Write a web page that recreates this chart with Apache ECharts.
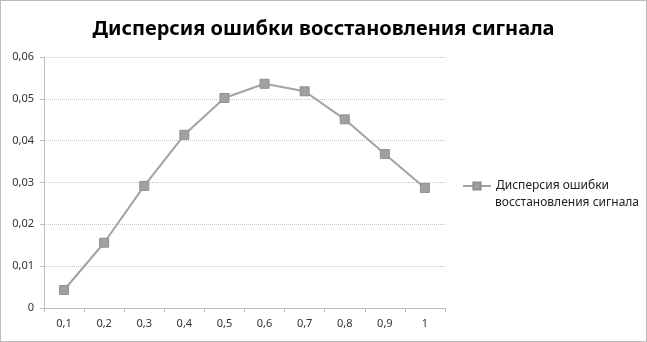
<!DOCTYPE html>
<html><head><meta charset="utf-8">
<script src="https://cdn.jsdelivr.net/npm/echarts@6/dist/echarts.min.js"></script>
<style>html,body{margin:0;padding:0;background:#fff}#c{width:647px;height:342px}</style>
</head><body><div id="c"></div>
<script>
const categories = ['0,1','0,2','0,3','0,4','0,5','0,6','0,7','0,8','0,9','1'];
const values = [0.0043, 0.0156, 0.0292, 0.0414, 0.0502, 0.0536, 0.0518, 0.0451, 0.0368, 0.0287];
const seriesName = 'Дисперсия ошибки восстановления сигнала';
const legendLines = ['Дисперсия ошибки', 'восстановления сигнала'];
const titleText = 'Дисперсия ошибки восстановления сигнала';

const chart = echarts.init(document.getElementById('c'), null, {renderer:'canvas'});
chart.setOption({
  animation:false,
  backgroundColor:'#fff',
  title:{text:titleText,left:'center',top:14,
    textStyle:{fontFamily:'Noto Sans',fontWeight:'bold',fontSize:20,color:'#000'}},
  grid:{left:44,right:202,top:57,bottom:34,containLabel:false},
  legend:{left:462,top:180,padding:0,orient:'vertical',itemWidth:28,itemHeight:9,
    formatter:()=>legendLines[0],
    textStyle:{fontFamily:'Noto Sans',fontSize:12,color:'#222'},
    data:[{name:seriesName}]},
  xAxis:{type:'category',data:categories,boundaryGap:true,
    axisLine:{lineStyle:{color:'#bdbdbd'}},
    axisTick:{show:true,length:4,lineStyle:{color:'#bdbdbd'}},
    axisLabel:{fontFamily:'Noto Sans',fontSize:11,color:'#333',margin:10},
    splitLine:{show:false}},
  yAxis:{type:'value',min:0,max:0.06,interval:0.01,
    axisLine:{show:true,lineStyle:{color:'#bdbdbd'}},
    axisTick:{show:true,length:4,lineStyle:{color:'#bdbdbd'}},
    axisLabel:{fontFamily:'Noto Sans',fontSize:11,color:'#333',margin:10,
      formatter:v=>v===0?'0':v.toFixed(2).replace('.',',')},
    splitLine:{lineStyle:{color:'#c4c4c4',type:'dotted'}}},
  series:[{name:seriesName,type:'line',data:values,
    symbol:'rect',symbolSize:9,
    lineStyle:{color:'#a3a3a3',width:2},
    itemStyle:{color:'#a0a0a0',borderColor:'#909090',borderWidth:1}}],
  graphic:[
    {type:'rect',shape:{x:0.5,y:0.5,width:646,height:341},
      style:{fill:'none',stroke:'#777',lineWidth:1,lineDash:[1,1]},silent:true},
    {type:'text',left:495,top:197,silent:true,
      style:{text:legendLines[1],fontFamily:'Noto Sans',fontSize:12,fill:'#222'}}
  ]
});
</script></body></html>
